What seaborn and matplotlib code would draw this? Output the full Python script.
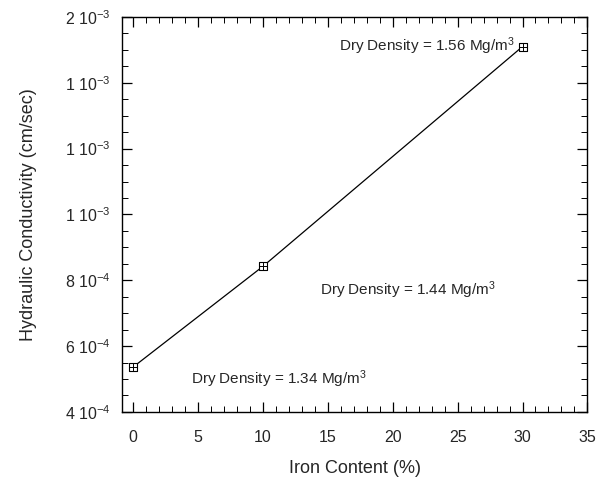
import matplotlib
matplotlib.use("Agg")
import matplotlib.pyplot as plt
from matplotlib.ticker import MultipleLocator, FixedLocator, FixedFormatter
import seaborn as sns
import pandas as pd

# Measured hydraulic conductivity vs. iron content
iron_content = [0, 10, 30]
conductivity = [5.36e-4, 8.42e-4, 1.51e-3]
density_labels = [
    "Dry Density = 1.34 Mg/m$^3$",
    "Dry Density = 1.44 Mg/m$^3$",
    "Dry Density = 1.56 Mg/m$^3$",
]
y_tick_values = [4e-4, 6e-4, 8e-4, 1.0e-3, 1.2e-3, 1.4e-3, 1.6e-3]
y_tick_labels = [
    "4 10$^{-4}$", "6 10$^{-4}$", "8 10$^{-4}$", "1 10$^{-3}$",
    "1 10$^{-3}$", "1 10$^{-3}$", "2 10$^{-3}$",
]

sns.set_style("ticks")
plt.rcParams["font.family"] = ["Liberation Sans", "DejaVu Sans"]
plt.rcParams["mathtext.fontset"] = "custom"
plt.rcParams["mathtext.rm"] = "Liberation Sans"
plt.rcParams["mathtext.it"] = "Liberation Sans"
plt.rcParams["mathtext.bf"] = "Liberation Sans"

df = pd.DataFrame({"iron": iron_content, "k": conductivity})

fig = plt.figure(figsize=(6.1, 4.84), dpi=100)
ax = fig.add_axes([0.200, 0.149, 0.763, 0.816])

sns.lineplot(data=df, x="iron", y="k", ax=ax, color="black", linewidth=0.9)
# Boxed-cross markers
sns.scatterplot(data=df, x="iron", y="k", ax=ax, marker="s", s=32,
                facecolor="white", edgecolor="black", linewidth=0.8, zorder=3)
sns.scatterplot(data=df, x="iron", y="k", ax=ax, marker="+", s=30,
                color="black", linewidth=0.7, zorder=4)

ax.set_xlim(-0.85, 35)
ax.set_ylim(4e-4, 1.6e-3)
ax.xaxis.set_major_locator(MultipleLocator(5))
ax.xaxis.set_minor_locator(MultipleLocator(1))
ax.yaxis.set_major_locator(FixedLocator(y_tick_values))
ax.yaxis.set_major_formatter(FixedFormatter(y_tick_labels))
ax.yaxis.set_minor_locator(MultipleLocator(0.5e-4))

ax.tick_params(which="both", direction="in", top=True, right=True,
               labelsize=11.5, color="black")
ax.tick_params(which="major", length=7, width=0.9, pad=8)
ax.tick_params(axis="x", which="major", pad=13)
ax.tick_params(which="minor", length=4, width=0.7)
for s in ax.spines.values():
    s.set_color("black")
    s.set_linewidth(1.0)

ax.set_xlabel("Iron Content (%)", fontsize=13, labelpad=11)
ax.set_ylabel("Hydraulic Conductivity (cm/sec)", fontsize=13, labelpad=20)

ax.text(29.4, conductivity[2], density_labels[2], fontsize=11,
        ha="right", va="center")
ax.text(14.4, 7.7e-4, density_labels[1], fontsize=11,
        ha="left", va="center")
ax.text(4.5, 5.0e-4, density_labels[0], fontsize=11,
        ha="left", va="center")

fig.savefig("out.png", dpi=100)
